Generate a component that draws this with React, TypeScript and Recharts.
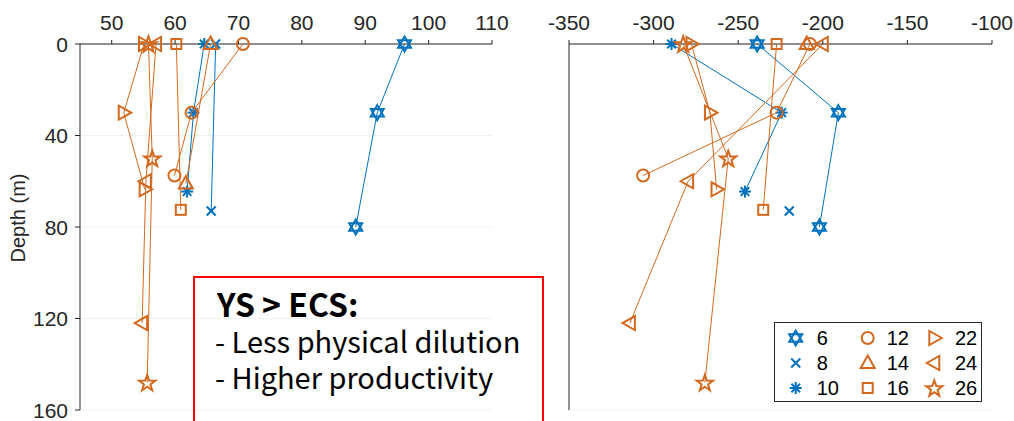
import React from 'react';
import { ScatterChart, Scatter, XAxis, YAxis, CartesianGrid, Legend } from 'recharts';

// Station colours
const BLUE = '#0072BD';
const ORANGE = '#D2691E';
const AXIS = '#262626';
const FONT = 'Liberation Sans, Arial, sans-serif';
const BOX_FONT = 'Noto Sans CJK SC, Noto Sans, sans-serif';

// Depth ticks shared by both panels
const depthTicks = [0, 40, 80, 120, 160];
const leftTicks = [50, 60, 70, 80, 90, 100, 110];
const rightTicks = [-350, -300, -250, -200, -150, -100];

// Sampling depths (m) per station
const depth6 = [0, 30, 80];
const depth8 = [0, 73];
const depth10 = [0, 30, 64.5];
const depth12 = [0, 30, 57.5];
const depth14 = [0, 61];
const depth16 = [0, 72.5];
const depth22 = [0, 30, 63.5];
const depth24 = [0, 60, 122];
const depth26 = [0, 50, 148];

// Left panel values
const left6 = [96.2, 91.9, 88.5];
const left8 = [66.4, 65.7];
const left10 = [64.6, 62.9, 61.9];
const left12 = [70.7, 62.6, 59.9];
const left14 = [65.6, 61.7];
const left16 = [60.2, 60.9];
const left22 = [55.1, 51.9, 55.2];
const left24 = [57.0, 55.4, 54.8];
const left26 = [55.8, 56.4, 55.6];

// Right panel values (null = not measured)
const right6 = [-238.8, -190.8, -202];
const right8 = [null, -219.8];
const right10 = [-289.4, -224.3, -246];
const right12 = [-207.6, -227.3, -306.2];
const right14 = [-209.5, null];
const right16 = [-227.3, -235.2];
const right22 = [-277.6, -266.7, -262.8];
const right24 = [-200, -279.6, -314];
const right26 = [-282.5, -255.9, -269.7];

type Kind =
  | 'hexagram'
  | 'cross'
  | 'asterisk'
  | 'circle'
  | 'triUp'
  | 'square'
  | 'triRight'
  | 'triLeft'
  | 'pentagram';

interface Station {
  name: string;
  kind: Kind;
  color: string;
  depth: number[];
  left: (number | null)[];
  right: (number | null)[];
}

const stations: Station[] = [
  { name: '6', kind: 'hexagram', color: BLUE, depth: depth6, left: left6, right: right6 },
  { name: '8', kind: 'cross', color: BLUE, depth: depth8, left: left8, right: right8 },
  { name: '10', kind: 'asterisk', color: BLUE, depth: depth10, left: left10, right: right10 },
  { name: '12', kind: 'circle', color: ORANGE, depth: depth12, left: left12, right: right12 },
  { name: '14', kind: 'triUp', color: ORANGE, depth: depth14, left: left14, right: right14 },
  { name: '16', kind: 'square', color: ORANGE, depth: depth16, left: left16, right: right16 },
  { name: '22', kind: 'triRight', color: ORANGE, depth: depth22, left: left22, right: right22 },
  { name: '24', kind: 'triLeft', color: ORANGE, depth: depth24, left: left24, right: right24 },
  { name: '26', kind: 'pentagram', color: ORANGE, depth: depth26, left: left26, right: right26 },
];

function toPoints(values: (number | null)[], depth: number[]) {
  const out: { x: number; y: number }[] = [];
  values.forEach((v, i) => {
    if (v !== null) out.push({ x: v, y: depth[i] });
  });
  return out;
}

function pts(cx: number, cy: number, list: number[][]) {
  return list.map(([dx, dy]) => `${cx + dx},${cy + dy}`).join(' ');
}

function starPoints(cx: number, cy: number, n: number, ro: number, ri: number) {
  const out: number[][] = [];
  for (let i = 0; i < 2 * n; i++) {
    const r = i % 2 === 0 ? ro : ri;
    const a = -Math.PI / 2 + (i * Math.PI) / n;
    out.push([r * Math.cos(a), r * Math.sin(a)]);
  }
  return pts(cx, cy, out);
}

function Marker({ kind, cx, cy, color }: { kind: Kind; cx: number; cy: number; color: string }) {
  const common = { fill: 'none', stroke: color, strokeWidth: 2 };
  switch (kind) {
    case 'circle':
      return <circle cx={cx} cy={cy} r={6} {...common} />;
    case 'square':
      return <rect x={cx - 5} y={cy - 5} width={10} height={10} {...common} />;
    case 'triUp':
      return <polygon points={pts(cx, cy, [[0, -7.5], [7, 5], [-7, 5]])} {...common} />;
    case 'triRight':
      return <polygon points={pts(cx, cy, [[7.5, 0], [-5, -7], [-5, 7]])} {...common} />;
    case 'triLeft':
      return <polygon points={pts(cx, cy, [[-7.5, 0], [5, -7], [5, 7]])} {...common} />;
    case 'cross':
      return (
        <g stroke={color} strokeWidth={2}>
          <line x1={cx - 4.5} y1={cy - 4.5} x2={cx + 4.5} y2={cy + 4.5} />
          <line x1={cx - 4.5} y1={cy + 4.5} x2={cx + 4.5} y2={cy - 4.5} />
        </g>
      );
    case 'asterisk':
      return (
        <g stroke={color} strokeWidth={2}>
          <line x1={cx - 6} y1={cy} x2={cx + 6} y2={cy} />
          <line x1={cx} y1={cy - 6} x2={cx} y2={cy + 6} />
          <line x1={cx - 4.3} y1={cy - 4.3} x2={cx + 4.3} y2={cy + 4.3} />
          <line x1={cx - 4.3} y1={cy + 4.3} x2={cx + 4.3} y2={cy - 4.3} />
        </g>
      );
    case 'hexagram': {
      const r = 7.5;
      const h = r * 0.866;
      return (
        <g {...common}>
          <polygon points={pts(cx, cy, [[0, -r], [h, r / 2], [-h, r / 2]])} />
          <polygon points={pts(cx, cy, [[0, r], [h, -r / 2], [-h, -r / 2]])} />
        </g>
      );
    }
    case 'pentagram':
      return <polygon points={starPoints(cx, cy + 0.8, 5, 8.5, 3.4)} {...common} />;
    default:
      return null;
  }
}

// Tick label renderers with an explicit font size
function TopTick(props: any) {
  const { x, y, payload } = props;
  return (
    <text x={x} y={y} textAnchor="middle" fill={AXIS} style={{ fontSize: 21, fontFamily: FONT }}>
      {payload.value}
    </text>
  );
}

function DepthTick(props: any) {
  const { x, y, payload } = props;
  return (
    <text
      x={x}
      y={y}
      dy={7.5}
      textAnchor="end"
      fill={AXIS}
      style={{ fontSize: 21, fontFamily: FONT }}
    >
      {payload.value}
    </text>
  );
}

function StationLegend() {
  const rows = [16, 41, 66];
  const markerX = [21.7, 93.7, 160.3];
  const textX = [42.7, 112.7, 181];
  return (
    <svg width={208} height={80} style={{ display: 'block' }}>
      <rect x={0.5} y={0.5} width={207} height={79} fill="#ffffff" stroke={AXIS} strokeWidth={1} />
      {stations.map((s, i) => {
        const col = Math.floor(i / 3);
        const row = i % 3;
        return (
          <g key={s.name}>
            <Marker kind={s.kind} cx={markerX[col]} cy={rows[row]} color={s.color} />
            <text
              x={textX[col]}
              y={rows[row] + 7}
              fill="#000000"
              style={{ fontSize: 20, fontFamily: FONT }}
            >
              {s.name}
            </text>
          </g>
        );
      })}
    </svg>
  );
}

function Panel({
  side,
  width,
  margin,
  yAxisWidth,
  domain,
  ticks,
  showDepthLabels,
  legend,
}: {
  side: 'left' | 'right';
  width: number;
  margin: { top: number; right: number; bottom: number; left: number };
  yAxisWidth: number;
  domain: [number, number];
  ticks: number[];
  showDepthLabels: boolean;
  legend: boolean;
}) {
  return (
    <ScatterChart width={width} height={421} margin={margin}>
      <CartesianGrid vertical={false} stroke="#f1f1f1" strokeWidth={1} />
      <XAxis
        type="number"
        dataKey="x"
        orientation="top"
        height={30}
        domain={domain}
        ticks={ticks}
        interval={0}
        allowDataOverflow
        axisLine={{ stroke: AXIS }}
        tickLine={{ stroke: AXIS }}
        tickSize={4}
        tickMargin={10}
        tick={<TopTick />}
      />
      <YAxis
        type="number"
        dataKey="y"
        reversed
        width={yAxisWidth}
        domain={[0, 160]}
        ticks={depthTicks}
        interval={0}
        axisLine={{ stroke: AXIS }}
        tickLine={{ stroke: AXIS }}
        tickSize={5}
        tickMargin={7}
        tick={showDepthLabels ? <DepthTick /> : false}
      />
      {stations.map((s) => (
        <Scatter
          key={s.name}
          name={s.name}
          data={toPoints(side === 'left' ? s.left : s.right, s.depth)}
          line={{ stroke: s.color, strokeWidth: 1 }}
          lineType="joint"
          isAnimationActive={false}
          shape={(p: any) => <Marker kind={s.kind} cx={p.cx} cy={p.cy} color={s.color} />}
        />
      ))}
      {legend && (
        <Legend
          layout="horizontal"
          verticalAlign="middle"
          align="center"
          content={() => <StationLegend />}
          wrapperStyle={{ position: 'absolute', left: 254, top: 322, width: 208, height: 80 }}
        />
      )}
    </ScatterChart>
  );
}

export default function App() {
  return (
    <div
      style={{
        position: 'absolute',
        left: 0,
        top: 0,
        width: 1014,
        height: 421,
        overflow: 'hidden',
        background: '#ffffff',
      }}
    >
      <div style={{ position: 'absolute', left: 0, top: 0 }}>
        <Panel
          side="left"
          width={520}
          margin={{ top: 14, right: 28, bottom: 11, left: 20 }}
          yAxisWidth={60}
          domain={[45, 110]}
          ticks={leftTicks}
          showDepthLabels
          legend={false}
        />
      </div>
      <div style={{ position: 'absolute', left: 520, top: 0 }}>
        <Panel
          side="right"
          width={494}
          margin={{ top: 14, right: 22, bottom: 11, left: 39 }}
          yAxisWidth={10}
          domain={[-350, -100]}
          ticks={rightTicks}
          showDepthLabels={false}
          legend
        />
      </div>
      <svg
        width={1014}
        height={421}
        style={{ position: 'absolute', left: 0, top: 0, pointerEvents: 'none' }}
      >
        {/* Depth axis title */}
        <text
          x={25}
          y={218}
          transform="rotate(-90 25 218)"
          textAnchor="middle"
          fill={AXIS}
          style={{ fontSize: 20, fontFamily: FONT }}
        >
          Depth (m)
        </text>
        {/* Annotation box */}
        <rect x={194} y={277} width={349} height={160} fill="none" stroke="#ff0000" strokeWidth={2} />
        <text x={217} y={317} fill="#000000" style={{ fontSize: 32, fontWeight: 700, fontFamily: BOX_FONT }}>
          YS &gt; ECS:
        </text>
        <text x={215} y={353} fill="#000000" style={{ fontSize: 29, fontFamily: BOX_FONT }}>
          - Less physical dilution
        </text>
        <text x={215} y={389} fill="#000000" style={{ fontSize: 29, fontFamily: BOX_FONT }}>
          - Higher productivity
        </text>
      </svg>
    </div>
  );
}
